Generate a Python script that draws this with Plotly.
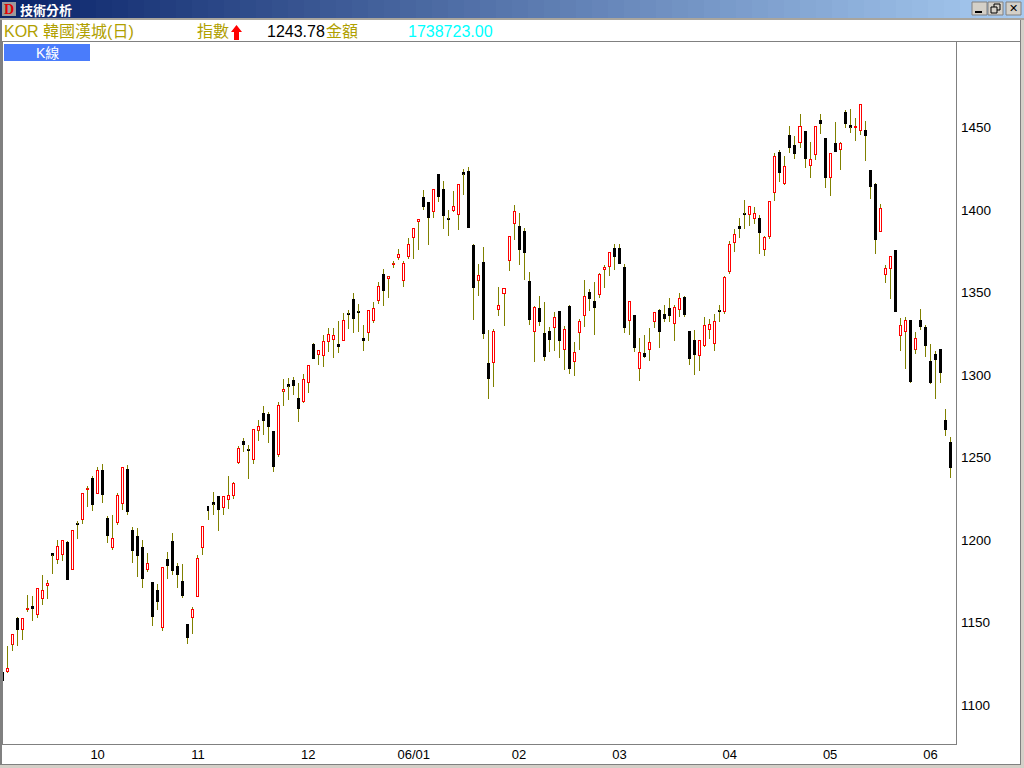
import plotly.graph_objects as go

# ---------- data (daily KOR index candles) ----------
opens = [
 1119.8,1120.2,1136.8,1152.7,1145.7,1157.7,1160.0,1154.7,1164.4,1172.3,
 1192.1,1188.1,1191.1,1198.8,1182.0,1209.8,1212.3,1230.4,1237.6,1228.1,
 1242.4,1213.3,1195.3,1210.5,1222.0,1243.0,1206.1,1202.4,1195.8,1182.0,
 1174.5,1169.7,1146.7,1188.5,1199.4,1184.2,1175.1,1149.1,1152.9,1165.7,
 1195.3,1220.6,1223.0,1226.7,1219.6,1224.4,1226.9,1246.9,1260.0,1254.6,
 1248.7,1266.4,1277.0,1276.3,1266.0,1251.7,1290.3,1294.5,1297.0,1286.0,
 1283.8,1295.3,1318.8,1312.3,1311.7,1320.2,1321.4,1318.8,1320.8,1337.0,
 1346.0,1338.3,1322.4,1325.6,1332.9,1345.0,1361.2,1358.2,1366.8,1371.1,
 1357.2,1371.7,1383.2,1392.9,1407.9,1404.8,1399.0,1421.8,1412.7,1394.6,
 1399.6,1397.2,1422.8,1423.6,1378.8,1357.4,1368.5,1307.3,1307.5,1339.6,
 1349.3,1369.3,1391.7,1390.3,1387.3,1357.0,1326.3,1340.6,1325.5,1326.7,
 1328.7,1338.8,1315.4,1341.8,1308.1,1325.7,1336.0,1350.3,1344.8,1348.7,
 1363.8,1365.7,1377.0,1377.0,1365.5,1332.9,1336.4,1303.8,1313.4,1315.4,
 1332.3,1339.4,1337.0,1340.6,1331.1,1339.6,1347.3,1326.7,1321.2,1311.7,
 1317.8,1327.5,1319.0,1338.9,1338.4,1362.6,1380.2,1390.3,1397.7,1397.2,
 1394.8,1395.2,1376.0,1383.8,1410.5,1435.2,1416.0,1445.5,1439.4,1440.8,
 1447.9,1426.9,1433.5,1454.5,1443.6,1419.6,1440.6,1436.6,1459.4,1451.5,
 1449.7,1448.1,1448.5,1424.2,1415.8,1386.9,1360.8,1364.4,1375.8,1323.9,
 1326.3,1333.4,1315.6,1333.4,1329.1,1308.5,1312.8,1315.8,1272.8,1259.4]
highs = [
 1119.8,1135.8,1142.8,1153.3,1152.5,1166.7,1166.1,1170.7,1178.8,1175.8,
 1192.1,1200.0,1199.8,1199.4,1205.9,1211.5,1228.3,1232.7,1238.8,1244.2,
 1246.1,1214.5,1215.1,1228.5,1244.0,1245.4,1207.9,1207.3,1200.0,1192.1,
 1174.5,1173.3,1183.4,1192.7,1204.2,1186.1,1185.4,1149.1,1159.4,1190.9,
 1208.3,1220.6,1229.1,1226.7,1226.5,1238.8,1235.1,1257.0,1261.8,1257.6,
 1267.1,1272.7,1281.2,1277.6,1266.0,1283.4,1297.6,1298.2,1298.8,1295.1,
 1300.6,1305.8,1319.4,1314.9,1324.2,1328.5,1328.5,1332.7,1337.6,1339.4,
 1349.7,1343.0,1330.3,1339.2,1344.2,1356.3,1364.2,1360.0,1369.1,1376.3,
 1369.1,1382.8,1388.9,1394.3,1412.1,1404.8,1412.5,1421.8,1417.6,1400.0,
 1411.5,1415.6,1424.8,1426.1,1379.4,1367.3,1377.6,1327.3,1327.9,1353.3,
 1352.5,1384.0,1402.8,1398.2,1389.1,1362.4,1341.8,1347.9,1344.2,1329.1,
 1338.2,1338.8,1329.7,1342.4,1320.0,1333.9,1357.6,1352.1,1356.4,1361.6,
 1366.7,1374.3,1379.4,1379.4,1367.3,1344.6,1336.4,1322.4,1324.3,1328.5,
 1338.0,1340.0,1342.4,1346.7,1342.4,1349.7,1347.9,1326.7,1327.3,1321.0,
 1335.2,1334.0,1337.0,1342.4,1359.8,1381.2,1388.5,1395.2,1406.1,1402.2,
 1401.8,1397.0,1384.2,1405.3,1434.5,1436.4,1432.7,1450.9,1444.9,1458.2,
 1447.9,1441.2,1450.7,1458.2,1443.6,1434.3,1453.3,1441.2,1460.6,1461.2,
 1455.8,1464.0,1453.9,1424.2,1416.4,1403.6,1366.7,1371.9,1375.8,1334.6,
 1335.2,1333.4,1326.1,1340.0,1330.3,1318.8,1314.6,1315.8,1279.4,1262.4]
lows = [
 1114.7,1119.6,1132.9,1136.0,1139.4,1156.6,1150.9,1152.7,1160.8,1164.2,
 1179.4,1185.4,1187.5,1175.8,1182.0,1200.6,1209.7,1220.0,1217.6,1228.1,
 1222.4,1198.2,1193.9,1209.1,1218.2,1215.1,1186.1,1177.6,1170.9,1180.6,
 1147.9,1157.6,1144.8,1176.4,1178.8,1170.9,1164.8,1137.0,1143.0,1165.7,
 1190.9,1212.1,1215.1,1205.4,1215.1,1218.8,1224.8,1246.0,1253.3,1237.0,
 1246.0,1260.0,1263.6,1258.8,1241.2,1250.3,1281.2,1284.8,1287.9,1271.5,
 1283.0,1289.1,1309.7,1306.0,1304.8,1313.9,1310.3,1313.3,1320.8,1327.9,
 1325.4,1326.0,1314.5,1320.6,1331.5,1343.0,1341.8,1346.6,1364.8,1369.7,
 1353.3,1370.3,1370.3,1375.8,1400.0,1378.8,1395.1,1404.8,1388.5,1384.2,
 1399.0,1387.9,1409.1,1389.1,1333.3,1347.9,1321.8,1285.5,1292.7,1335.8,
 1329.7,1363.0,1381.8,1366.7,1357.6,1330.3,1307.9,1329.7,1308.5,1313.9,
 1314.5,1310.3,1303.0,1300.6,1299.4,1315.1,1329.1,1338.8,1324.2,1346.7,
 1352.7,1360.0,1363.6,1367.3,1325.5,1324.2,1313.9,1296.4,1310.3,1308.5,
 1328.5,1316.4,1332.1,1332.1,1320.6,1335.2,1335.2,1306.1,1300.0,1302.4,
 1317.0,1321.8,1314.6,1332.1,1337.0,1361.2,1374.6,1383.0,1388.5,1390.3,
 1391.5,1373.4,1372.1,1382.4,1405.5,1417.0,1415.2,1434.5,1430.9,1437.6,
 1425.5,1419.4,1430.3,1446.1,1413.3,1408.5,1435.2,1424.2,1449.7,1446.7,
 1441.8,1445.5,1429.7,1406.7,1373.3,1386.9,1355.8,1346.1,1338.4,1314.6,
 1303.7,1295.2,1312.8,1327.3,1310.9,1294.6,1285.5,1295.2,1263.1,1237.6]
closes = [
 1114.7,1122.2,1142.8,1145.7,1152.5,1158.3,1158.2,1170.7,1169.5,1173.7,
 1190.9,1196.2,1199.8,1175.8,1205.9,1209.2,1228.3,1231.0,1221.2,1242.2,
 1227.3,1202.4,1201.0,1227.1,1244.0,1217.0,1193.3,1190.3,1176.4,1185.9,
 1153.3,1162.4,1183.4,1184.2,1181.2,1178.8,1166.1,1140.6,1158.0,1188.9,
 1208.3,1217.6,1221.8,1218.2,1226.5,1227.1,1234.5,1255.5,1257.6,1254.0,
 1267.1,1268.9,1272.1,1268.5,1244.2,1281.6,1291.5,1293.3,1293.3,1279.4,
 1297.4,1305.8,1309.7,1314.9,1320.4,1324.6,1324.0,1317.0,1333.1,1336.4,
 1333.9,1337.7,1320.6,1339.2,1340.4,1353.7,1350.9,1359.4,1367.4,1373.1,
 1367.7,1379.2,1388.9,1394.3,1401.8,1395.1,1412.5,1407.9,1396.4,1394.0,
 1402.2,1415.6,1421.8,1389.1,1352.7,1360.4,1324.8,1297.6,1326.5,1342.2,
 1352.5,1384.0,1399.2,1375.8,1373.9,1333.3,1341.0,1332.1,1310.9,1321.2,
 1334.9,1320.6,1327.7,1303.6,1313.7,1332.5,1347.7,1346.1,1340.6,1361.0,
 1365.3,1374.3,1371.5,1367.3,1328.5,1344.6,1316.4,1313.7,1310.9,1319.8,
 1338.0,1326.1,1334.0,1335.8,1341.0,1346.5,1336.4,1309.7,1312.1,1321.0,
 1330.1,1330.7,1332.5,1338.3,1359.2,1379.2,1385.3,1388.5,1397.1,1402.2,
 1398.0,1386.1,1383.4,1405.3,1432.5,1422.4,1426.5,1437.6,1433.9,1450.7,
 1430.9,1430.7,1450.7,1452.1,1419.4,1434.3,1435.2,1440.6,1452.1,1450.3,
 1450.9,1464.0,1444.9,1413.9,1381.8,1401.0,1364.6,1371.9,1338.4,1329.7,
 1333.2,1295.8,1322.2,1329.1,1317.6,1295.2,1309.1,1301.2,1266.7,1243.78]

y_ticks = [1100, 1150, 1200, 1250, 1300, 1350, 1400, 1450]
x_tick_index = [19, 39, 61, 82, 103, 123, 145, 165, 185]
x_tick_text = ["10", "11", "12", "06/01", "02", "03", "04", "05", "06"]

# ---------- helpers for the window furniture ----------
W, H = 1024, 768
def X(px): return px / W
def Y(px): return 1 - px / H
shapes = []
def rect(x0, y0, x1, y1, fill, line=None):
    shapes.append(dict(type="rect", xref="paper", yref="paper", x0=X(x0), x1=X(x1), y0=Y(y0), y1=Y(y1),
                       fillcolor=fill, line=dict(width=1 if line else 0, color=line or fill), layer="above"))
notes = []
FONT = "Liberation Sans, Arial, Noto Sans CJK TC"
def text(px, py, s, color, size=16, anchor="left", family=FONT):
    notes.append(dict(xref="paper", yref="paper", x=X(px), y=Y(py), text=s, showarrow=False, xanchor=anchor,
                      yanchor="middle", font=dict(family=family, size=size, color=color), borderpad=0))

# window frame
rect(0, 0, W, 18, "#d4d0c8")
N = 64
c0, c1 = (10, 36, 106), (166, 202, 240)
for k in range(N):
    t = k / (N - 1)
    col = "rgb(%d,%d,%d)" % tuple(round(a + (b - a) * t) for a, b in zip(c0, c1))
    rect(W * k / N, 0, W * (k + 1) / N + 1, 18, col)
rect(0, 18, W, 20, "#a8a59e")
rect(0, 20, 2, H, "#808080")
rect(2, 41, 1020, 42, "#808080")
rect(2, 42, 3, 745, "#808080")
rect(956, 42, 957, 745, "#808080")
rect(2, 744, 957, 745, "#808080")
rect(1020, 20, 1021, 765, "#808080")
rect(2, 764, 1021, 765, "#808080")
rect(1021, 20, W, H, "#d4d0c8")
rect(0, 765, W, H, "#d4d0c8")

# title bar content
rect(2, 2, 16, 16, "#9a9a9a")
text(3, 9, "<b>D</b>", "#e00000", 14, family="Liberation Serif")
text(19, 9, "<b>技術分析</b>", "#ffffff", 13, family="Noto Sans CJK TC")
for bx in (972, 988, 1006):
    rect(bx, 2, bx + 15, 15, "#d4d0c8", "#808080")
rect(975, 11, 982, 13, "#000000")
rect(994, 4, 1000, 10, "rgba(0,0,0,0)", "#000000")
rect(991, 7, 997, 13, "#d4d0c8", "#000000")
text(1013.5, 8.5, "<b>✕</b>", "#000000", 11, anchor="center", family="DejaVu Sans")

# header row
text(3, 32, "KOR 韓國漢城(日)", "#b0a000")
text(196, 32, "指數", "#b0a000")
shapes.append(dict(type="path", xref="paper", yref="paper", layer="above", fillcolor="#ff0000", line=dict(width=0),
    path="M %f %f L %f %f L %f %f L %f %f L %f %f L %f %f L %f %f Z" % (
        X(236.5), Y(25), X(242), Y(32), X(239), Y(32), X(239), Y(40), X(234), Y(40), X(234), Y(32), X(231), Y(32))))
text(266, 32, "1243.78", "#000000")
text(325, 32, "金額", "#b0a000")
text(407, 32, "1738723.00", "#00ffff")
rect(4, 44, 90, 61, "#4a7cfb")
text(47, 52.5, "K線", "#ffffff", 14, anchor="center")

# ---------- candles ----------
PX_PER_INDEX = 5.017     # horizontal screen pixels per candle
n = len(opens)
idx = list(range(n))
up = [i for i in idx if closes[i] >= opens[i]]
dn = [i for i in idx if closes[i] < opens[i]]

wick_x, wick_y = [], []
for i in idx:
    top, bot = max(opens[i], closes[i]), min(opens[i], closes[i])
    wick_x += [i, i, None, i, i, None]
    wick_y += [highs[i], top, None, bot, lows[i], None]

fig = go.Figure()
fig.add_trace(go.Bar(x=dn, base=[closes[i] for i in dn], y=[opens[i] - closes[i] for i in dn],
                     width=2.99 / PX_PER_INDEX, marker=dict(color="#000000", line=dict(width=0)), name="跌"))
fig.add_trace(go.Bar(x=up, base=[opens[i] for i in up], y=[closes[i] - opens[i] for i in up],
                     width=2.02 / PX_PER_INDEX, marker=dict(color="#ffffff", line=dict(width=1, color="#ff0000")), name="漲"))
fig.add_trace(go.Scatter(x=wick_x, y=wick_y, mode="lines", line=dict(color="#808000", width=1), name="高低",
                         connectgaps=False))

# pixel frame of the plot: x 2..956, y 42..745; 1 point = 1.65 px
x_lo = (2 - 2.3) / PX_PER_INDEX
x_hi = (956 - 2.3) / PX_PER_INDEX
y_lo = 1100 - 40 / 1.65
y_hi = 1100 + 663 / 1.65

fig.update_layout(
    width=W, height=H, autosize=False, margin=dict(l=0, r=0, t=0, b=0, pad=0),
    paper_bgcolor="#ffffff", plot_bgcolor="#ffffff", barmode="overlay", showlegend=False,
    shapes=shapes, annotations=notes, font=dict(family=FONT, color="#000000"),
    xaxis=dict(domain=[2 / W, 956 / W], range=[x_lo, x_hi], tickmode="array", tickvals=x_tick_index,
               ticktext=x_tick_text, showgrid=False, zeroline=False, showline=False, ticks="",
               tickfont=dict(size=13, color="#000000"), tickangle=0),
    yaxis=dict(domain=[1 - 745 / H, 1 - 42 / H], range=[y_lo, y_hi], side="right", tickmode="array",
               tickvals=y_ticks, showgrid=False, zeroline=False, showline=False, ticks="",
               ticklabelstandoff=4, tickfont=dict(size=13.5, color="#000000")),
)
crisp = ("var s=document.createElement('style');"
         "s.textContent='.scatterlayer path,.barlayer path{shape-rendering:crispEdges !important}';"
         "document.head.appendChild(s);"
         "document.body.style.margin='0';document.body.style.overflow='hidden';")
fig.write_html("out.html", config=dict(displayModeBar=False), post_script=crisp)
